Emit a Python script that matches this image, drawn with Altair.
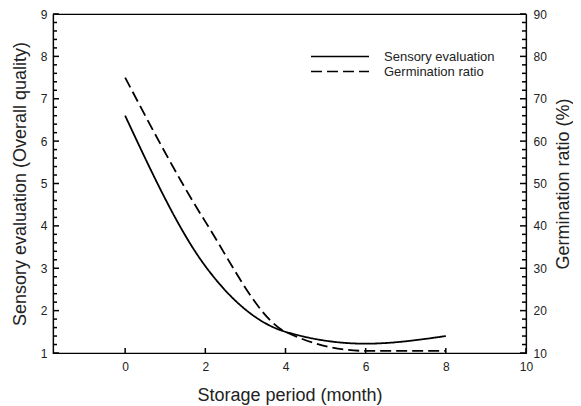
import altair as alt
import pandas as pd

months = [0, 2, 4, 6, 8]
sensory = [6.6, 3.05, 1.5, 1.22, 1.4]
germination = [75, 41, 15, 10.5, 10.5]
series_names = ["Sensory evaluation", "Germination ratio"]
x_ticks = [0, 2, 4, 6, 8, 10]
left_major = [1, 2, 3, 4, 5, 6, 7, 8, 9]
left_minor = [round(1 + 0.2 * i, 1) for i in range(41) if i % 5 != 0]
right_major = [10, 20, 30, 40, 50, 60, 70, 80, 90]
right_minor = [v for v in range(10, 91, 2) if v % 10 != 0]

df_s = pd.DataFrame({"month": months, "value": sensory, "series": series_names[0]})
df_g = pd.DataFrame({"month": months, "value": germination, "series": series_names[1]})

FONT = "Liberation Sans"
TXT = "#222222"
W, H = 473, 339
LEFT_DOM = [1, 9]
RIGHT_DOM = [10, 90]

x_enc = alt.X(
    "month:Q",
    scale=alt.Scale(domain=[-1.8, 10], nice=False, zero=False),
    axis=alt.Axis(
        title="Storage period (month)",
        values=x_ticks,
        ticks=False,
        labelPadding=8,
        titlePadding=14,
        labelFlush=False,
    ),
)

dash = alt.StrokeDash(
    "series:N",
    scale=alt.Scale(domain=series_names, range=[[1, 0], [11, 5]]),
    legend=alt.Legend(
        title=None,
        orient="none",
        legendX=257,
        legendY=35,
        symbolType="stroke",
        symbolSize=3364,
        symbolStrokeColor="black",
        symbolStrokeWidth=1.6,
        clipHeight=15,
        rowPadding=0,
        padding=0,
        labelOffset=14,
        labelFontSize=13,
        labelFont=FONT,
        labelColor=TXT,
    ),
)

sens = alt.Chart(df_s).mark_line(
    color="black", strokeWidth=1.8, interpolate="monotone"
).encode(
    x=x_enc,
    y=alt.Y(
        "value:Q",
        scale=alt.Scale(domain=LEFT_DOM, nice=False, zero=False),
        axis=alt.Axis(
            title="Sensory evaluation (Overall quality)",
            orient="left",
            values=left_major,
            format="d",
            ticks=False,
            labelPadding=6,
            titlePadding=11,
            labelOverlap=False,
            labelFlush=False,
        ),
    ),
    strokeDash=dash,
)

germ = alt.Chart(df_g).mark_line(
    color="black", strokeWidth=1.8, interpolate="monotone"
).encode(
    x=x_enc,
    y=alt.Y(
        "value:Q",
        scale=alt.Scale(domain=RIGHT_DOM, nice=False, zero=False),
        axis=alt.Axis(
            title="Germination ratio (%)",
            orient="right",
            values=right_major,
            format="d",
            ticks=False,
            labelPadding=7,
            titlePadding=8,
            titleAngle=270,
            titleBaseline="top",
            labelOverlap=False,
            labelFlush=False,
        ),
    ),
    strokeDash=dash,
)


def y_ticks(vals, dom, x0, x1):
    return alt.Chart(pd.DataFrame({"v": vals})).mark_rule(
        color="black", strokeWidth=1.5
    ).encode(
        y=alt.Y("v:Q", scale=alt.Scale(domain=dom, nice=False, zero=False), axis=None),
        x=alt.value(x0),
        x2=alt.value(x1),
    )


x_tick_layer = alt.Chart(pd.DataFrame({"month": x_ticks})).mark_rule(
    color="black", strokeWidth=1.5
).encode(x=x_enc, y=alt.value(H), y2=alt.value(H - 5))

layers = [
    sens,
    germ,
    y_ticks(left_major, LEFT_DOM, 0, 6),
    y_ticks(left_minor, LEFT_DOM, 0, 4),
    y_ticks(right_major, RIGHT_DOM, W, W - 6),
    y_ticks(right_minor, RIGHT_DOM, W, W - 4),
    x_tick_layer,
]

chart = (
    alt.layer(*layers)
    .resolve_scale(y="independent")
    .properties(
        width=W,
        height=H,
        autosize=alt.AutoSizeParams(type="none"),
        padding={"left": 45, "top": 6, "right": 47, "bottom": 52},
    )
    .configure_view(stroke="black", strokeWidth=1.2)
    .configure_axis(
        grid=False,
        domainColor="black",
        domainWidth=1.2,
        labelFont=FONT,
        labelFontSize=12,
        labelColor=TXT,
        titleFont=FONT,
        titleFontSize=18,
        titleFontWeight="normal",
        titleColor=TXT,
    )
)

chart.save("out.html", embed_options={"renderer": "svg", "actions": False})
